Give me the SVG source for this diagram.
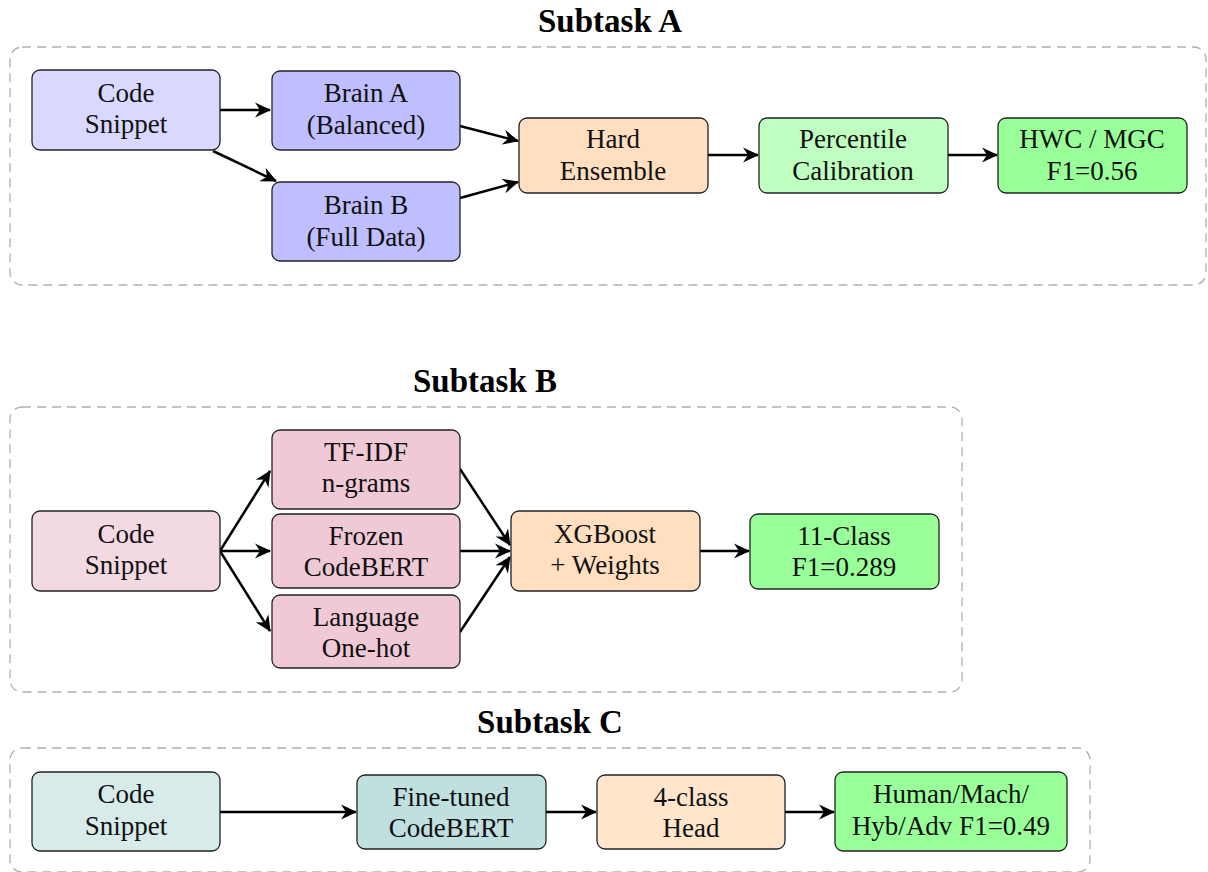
<svg xmlns="http://www.w3.org/2000/svg" width="1208" height="872" viewBox="0 0 1208 872">
<style>
.title{font-family:"Liberation Serif","Times New Roman",serif;font-weight:bold;font-size:33px;text-anchor:middle;fill:#000}
.t{font-family:"Liberation Serif","Times New Roman",serif;font-size:27px;text-anchor:middle;fill:#111}
.n{stroke:#222;stroke-width:1.3}
.grp{fill:none;stroke:#b0b0b0;stroke-width:1.3;stroke-dasharray:9 6}
.c{fill:none;stroke:#000;stroke-width:2.5;marker-end:url(#ah)}
</style>
<defs>
<marker id="ah" markerWidth="18" markerHeight="16" refX="15" refY="8" orient="auto" markerUnits="userSpaceOnUse">
<path d="M0,0.5 L16,8 L0,15.5 L5,8 Z" fill="#000"/>
</marker>
</defs>
<rect width="1208" height="872" fill="#fff"/>

<text class="title" x="610" y="32">Subtask A</text>
<rect class="grp" x="10" y="47" width="1196" height="238" rx="12"/>
<text class="title" x="485" y="392">Subtask B</text>
<rect class="grp" x="10" y="407" width="952" height="285" rx="12"/>
<text class="title" x="550" y="733">Subtask C</text>
<rect class="grp" x="10" y="748" width="1080" height="124" rx="12"/>

<g id="connectors">
<path class="c" d="M220,110 L270,110"/>
<path class="c" d="M213,151 L276,181"/>
<path class="c" d="M460,126 L518,141"/>
<path class="c" d="M460,198 L518,182"/>
<path class="c" d="M708,155 L758,155"/>
<path class="c" d="M948,155 L997,155"/>

<path class="c" d="M220,551 L270,471"/>
<path class="c" d="M220,551 L270,551"/>
<path class="c" d="M220,551 L270,631"/>
<path class="c" d="M460,469 L510,545"/>
<path class="c" d="M460,551 L510,551"/>
<path class="c" d="M460,632 L510,557"/>
<path class="c" d="M700,551 L749,551"/>

<path class="c" d="M220,812 L356,812"/>
<path class="c" d="M546,812 L596,812"/>
<path class="c" d="M785,812 L834,812"/>
</g>

<g id="a_code"><rect class="n" x="32" y="70" width="188" height="80" rx="8" fill="#d9d9ff"/>
<text class="t" x="126" y="102">Code</text><text class="t" x="126" y="133">Snippet</text></g>
<g id="a_brainA"><rect class="n" x="272" y="71" width="188" height="79" rx="8" fill="#bfbfff"/>
<text class="t" x="366" y="102">Brain A</text><text class="t" x="366" y="134">(Balanced)</text></g>
<g id="a_brainB"><rect class="n" x="272" y="182" width="188" height="79" rx="8" fill="#bfbfff"/>
<text class="t" x="366" y="214">Brain B</text><text class="t" x="366" y="246">(Full Data)</text></g>
<g id="a_hard"><rect class="n" x="519" y="118" width="189" height="75" rx="8" fill="#ffdfbf"/>
<text class="t" x="613" y="148">Hard</text><text class="t" x="613" y="180">Ensemble</text></g>
<g id="a_perc"><rect class="n" x="759" y="118" width="189" height="75" rx="8" fill="#bfffbf"/>
<text class="t" x="853" y="148">Percentile</text><text class="t" x="853" y="180">Calibration</text></g>
<g id="a_out"><rect class="n" x="998" y="118" width="189" height="75" rx="8" fill="#99ff99"/>
<text class="t" x="1092" y="148">HWC / MGC</text><text class="t" x="1092" y="180">F1=0.56</text></g>

<g id="b_code"><rect class="n" x="32" y="511" width="188" height="80" rx="8" fill="#f3d9e2"/>
<text class="t" x="126" y="543">Code</text><text class="t" x="126" y="574">Snippet</text></g>
<g id="b_tfidf"><rect class="n" x="272" y="430" width="188" height="79" rx="8" fill="#f0c9d6"/>
<text class="t" x="366" y="461">TF-IDF</text><text class="t" x="366" y="492">n-grams</text></g>
<g id="b_frozen"><rect class="n" x="272" y="514" width="188" height="74" rx="8" fill="#f0c9d6"/>
<text class="t" x="366" y="545">Frozen</text><text class="t" x="366" y="576">CodeBERT</text></g>
<g id="b_lang"><rect class="n" x="272" y="595" width="188" height="73" rx="8" fill="#f0c9d6"/>
<text class="t" x="366" y="626">Language</text><text class="t" x="366" y="657">One-hot</text></g>
<g id="b_xgb"><rect class="n" x="511" y="511" width="189" height="80" rx="8" fill="#ffdfbf"/>
<text class="t" x="605" y="543">XGBoost</text><text class="t" x="605" y="574">+ Weights</text></g>
<g id="b_out"><rect class="n" x="750" y="514" width="189" height="75" rx="8" fill="#99ff99"/>
<text class="t" x="844" y="545">11-Class</text><text class="t" x="844" y="576">F1=0.289</text></g>

<g id="c_code"><rect class="n" x="32" y="772" width="188" height="79" rx="8" fill="#d6ebea"/>
<text class="t" x="126" y="803">Code</text><text class="t" x="126" y="835">Snippet</text></g>
<g id="c_ft"><rect class="n" x="357" y="775" width="189" height="74" rx="8" fill="#bfe0df"/>
<text class="t" x="451" y="806">Fine-tuned</text><text class="t" x="451" y="837">CodeBERT</text></g>
<g id="c_head"><rect class="n" x="597" y="775" width="188" height="74" rx="8" fill="#ffe5cc"/>
<text class="t" x="691" y="806">4-class</text><text class="t" x="691" y="837">Head</text></g>
<g id="c_out"><rect class="n" x="835" y="772" width="232" height="79" rx="8" fill="#99ff99"/>
<text class="t" x="951" y="803">Human/Mach/</text><text class="t" x="951" y="835">Hyb/Adv F1=0.49</text></g>
</svg>
